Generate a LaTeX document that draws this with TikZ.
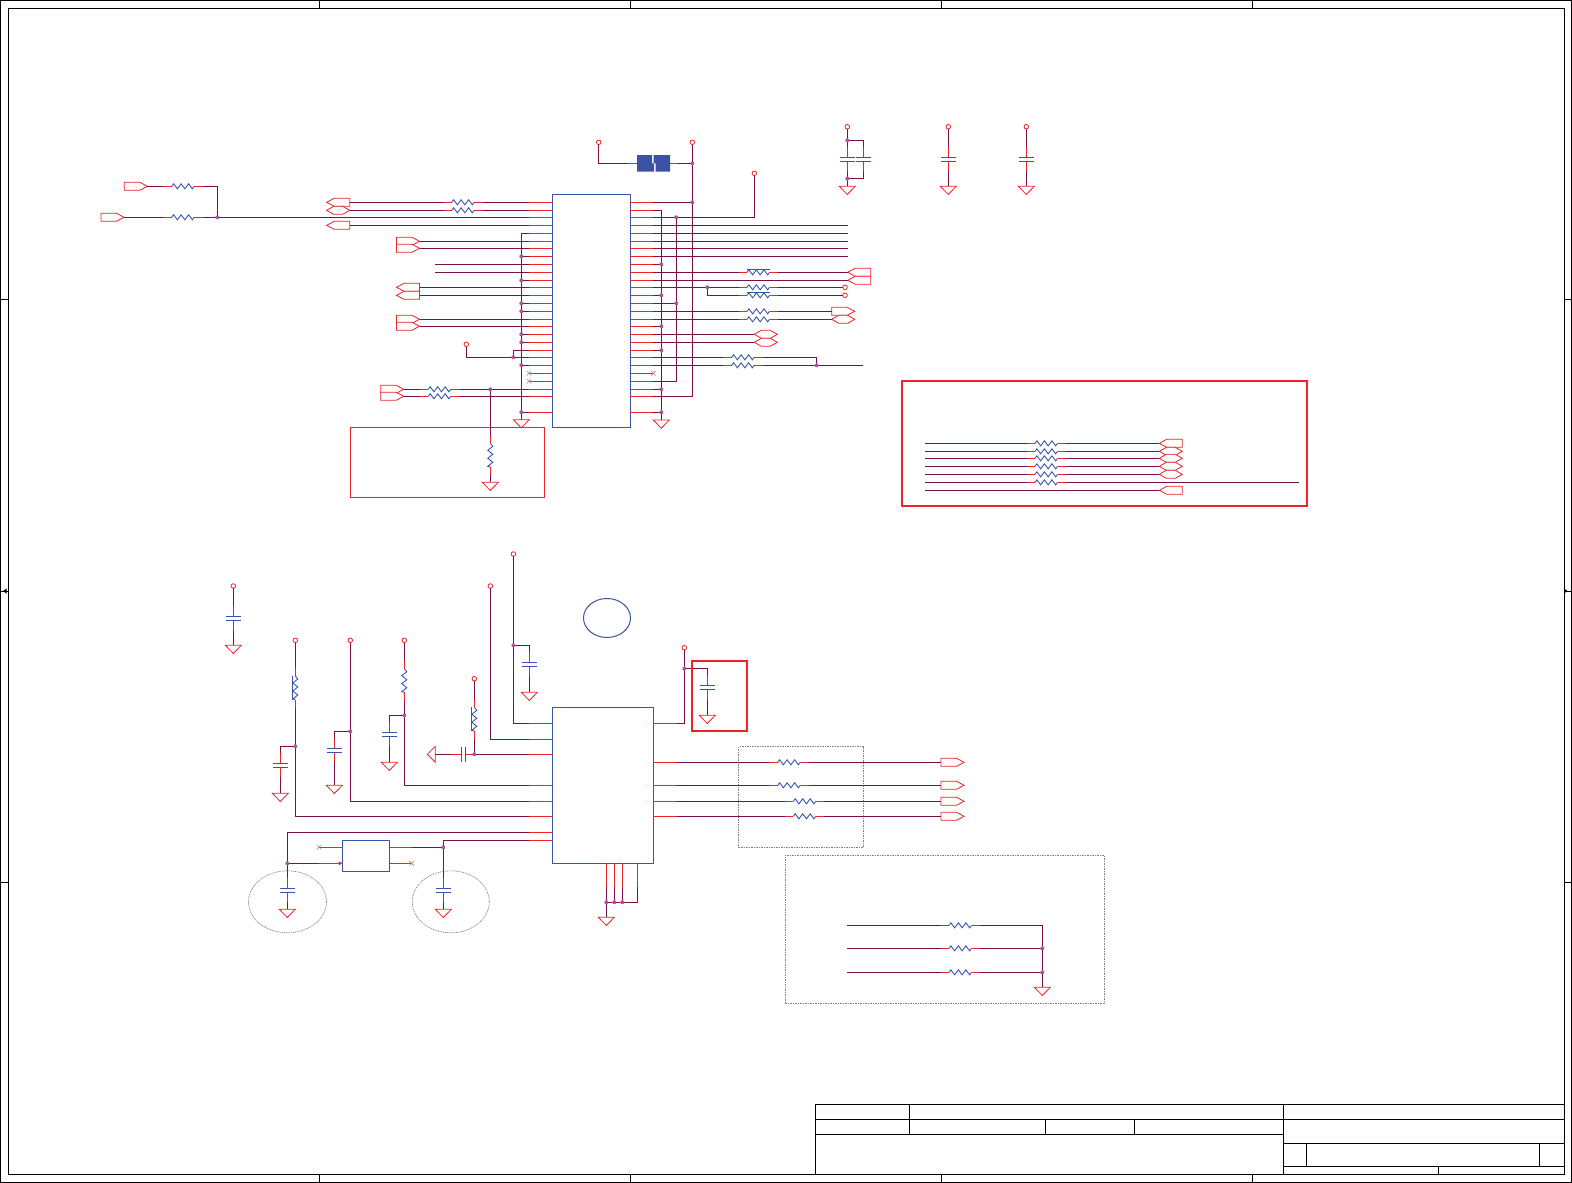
\documentclass[tikz,border=0pt]{standalone}
\usetikzlibrary{shapes.geometric}
\definecolor{cred}{HTML}{EE2227}
\definecolor{cwire}{HTML}{7A0F4A}
\definecolor{cblue}{HTML}{3A53A4}
\definecolor{cjun}{HTML}{B4509E}
\definecolor{ctan}{HTML}{B88A6A}
\definecolor{cgray}{HTML}{808080}
\tikzset{
  wire/.style={draw=cwire,line width=1pt,line join=miter},
  redstub/.style={draw=cred,line width=1pt},
  blueline/.style={draw=cblue,line width=0.9pt},
  portline/.style={draw=cred,line width=0.8pt,fill=white,line join=miter},
  junc/.style={fill=cjun,draw=none},
  nc/.style={draw=ctan,line width=0.6pt},
  icbox/.style={draw=cblue,line width=1pt,inner sep=0pt,outer sep=0pt,anchor=north west},
  redbox/.style={draw=cred,inner sep=0pt,outer sep=0pt,anchor=north west},
  dashbox/.style={draw=cgray,line width=0.7pt,dash pattern=on 1.5pt off 1pt,inner sep=0pt,outer sep=0pt,anchor=north west},
  dashell/.style={ellipse,draw=cgray,line width=0.7pt,dash pattern=on 1pt off 0.8pt,inner sep=0pt,outer sep=0pt},
  frameline/.style={draw=black,line width=1pt}
}
% horizontal resistor: name, left x of zigzag, y
\newcommand\ResH[3]{%
  \draw[redstub] (#2-8.3,#3) -- (#2,#3) (#2+22.5,#3) -- (#2+30.8,#3);
  \draw[blueline] (#2,#3) -- ++(1.9,-2.5) -- ++(3.75,5) -- ++(3.75,-5) -- ++(3.75,5) -- ++(3.75,-5) -- ++(3.75,5) -- ++(1.85,-2.5);
  \coordinate (#1-l) at (#2-8.3,#3);
  \coordinate (#1-r) at (#2+30.8,#3);}
\newcommand\ResHb[3]{\ResH{#1}{#2}{#3}\draw[blueline] (#2,#3-2.5) -- (#2+22.5,#3-2.5);}
% vertical resistor: name, x, top y of zigzag
\newcommand\ResV[3]{%
  \draw[redstub] (#2,#3-8.3) -- (#2,#3) (#2,#3+23.5) -- (#2,#3+31.8);
  \draw[blueline] (#2,#3) -- ++(2.5,3) -- ++(-5,4) -- ++(5,4) -- ++(-5,4) -- ++(5,4) -- ++(-5,4) -- ++(2.5,0.5);
  \coordinate (#1-t) at (#2,#3-8.3);
  \coordinate (#1-b) at (#2,#3+31.8);}
\newcommand\ResVb[3]{\ResV{#1}{#2}{#3}\draw[blueline] (#2-2.5,#3) -- (#2-2.5,#3+23.5);}
% vertical cap: name, x, y of upper plate
\newcommand\CapV[3]{%
  \draw[redstub] (#2,#3-10) -- (#2,#3) (#2,#3+4) -- (#2,#3+14);
  \draw[blueline] (#2-7.3,#3) -- (#2+7.3,#3) (#2-7.3,#3+4) -- (#2+7.3,#3+4);
  \coordinate (#1-t) at (#2,#3-10);
  \coordinate (#1-b) at (#2,#3+14);}
% horizontal cap: name, x of left plate, y
\newcommand\CapH[3]{%
  \draw[redstub] (#2-10,#3) -- (#2,#3) (#2+3.7,#3) -- (#2+13.7,#3);
  \draw[blueline] (#2,#3-7.3) -- (#2,#3+7.3) (#2+3.7,#3-7.3) -- (#2+3.7,#3+7.3);
  \coordinate (#1-l) at (#2-10,#3);
  \coordinate (#1-r) at (#2+13.7,#3);}
% open terminal: name, x, y
\newcommand\Term[3]{%
  \draw[draw=cred,line width=0.8pt] (#2,#3) circle (2.3);
  \coordinate (#1-s) at (#2,#3+2.3);
  \coordinate (#1-w) at (#2-2.3,#3);}
% ground: name, x, top y
\newcommand\Gnd[3]{%
  \draw[portline] (#2-8,#3) -- (#2+8,#3) -- (#2,#3+8.2) -- cycle;
  \coordinate (#1) at (#2,#3);}
\newcommand\PortL[3]{%
  \draw[portline] (#2,#3) -- (#2+7.5,#3-4) -- (#2+23,#3-4) -- (#2+23,#3+4) -- (#2+7.5,#3+4) -- cycle;
  \coordinate (#1-w) at (#2,#3); \coordinate (#1-e) at (#2+23,#3);}
\newcommand\PortR[3]{%
  \draw[portline] (#2,#3-4) -- (#2+15.5,#3-4) -- (#2+23,#3) -- (#2+15.5,#3+4) -- (#2,#3+4) -- cycle;
  \coordinate (#1-w) at (#2,#3); \coordinate (#1-e) at (#2+23,#3);}
\newcommand\PortH[3]{%
  \draw[portline] (#2,#3) -- (#2+7,#3-4) -- (#2+16,#3-4) -- (#2+23,#3) -- (#2+16,#3+4) -- (#2+7,#3+4) -- cycle;
  \coordinate (#1-w) at (#2,#3); \coordinate (#1-e) at (#2+23,#3);}
\newcommand\Jn[1]{\fill[junc] #1 circle (2);}
\newcommand\NoC[2]{\draw[nc] (#1-2.3,#2-2.3) -- (#1+2.3,#2+2.3) (#1-2.3,#2+2.3) -- (#1+2.3,#2-2.3);}
\begin{document}
\begin{tikzpicture}[x=1pt,y=-1pt]
\useasboundingbox (0,0) rectangle (1572,1183);
% ---------- sheet frame
\draw[frameline] (0.5,0.5) rectangle (1571.3,1182.5);
\draw[frameline] (8.5,8.5) rectangle (1564,1174.7);
\foreach \x in {319,630,941,1252}{
  \draw[frameline] (\x,0.5) -- (\x,8.5);
  \draw[frameline] (\x,1174.7) -- (\x,1182.5);}
\foreach \y in {299,591,882}{
  \draw[frameline] (0.5,\y) -- (8.5,\y);
  \draw[frameline] (1564,\y) -- (1571.3,\y);}
\fill (3,591) -- (6.5,588.5) -- (6.5,593.5) -- cycle;
\fill (1567.5,591) -- (1564,588.5) -- (1564,593.5) -- cycle;
% ---------- title block
\draw[frameline] (815.3,1174.7) -- (815.3,1104.3) -- (1564,1104.3);
\draw[frameline] (815.3,1119.3) -- (1564,1119.3);
\draw[frameline] (815.3,1134.3) -- (1283,1134.3);
\draw[frameline] (909.2,1104.3) -- (909.2,1134.3);
\draw[frameline] (1045.2,1119.3) -- (1045.2,1134.3);
\draw[frameline] (1134.5,1119.3) -- (1134.5,1134.3);
\draw[frameline] (1283,1104.3) -- (1283,1174.7);
\draw[frameline] (1283,1143.3) -- (1564,1143.3);
\draw[frameline] (1283,1166.3) -- (1564,1166.3);
\draw[frameline] (1306.6,1143.3) -- (1306.6,1166.3);
\draw[frameline] (1539.4,1143.3) -- (1539.4,1166.3);
\draw[frameline] (1438.8,1166.3) -- (1438.8,1174.7);
% ---------- upper IC and pins
\node[icbox,minimum width=78pt,minimum height=233pt] (ic1) at (552.3,194.3) {};
\foreach \yy [count=\i] in {202.3,210.3,217.3,225.3,233.3,241.3,248.3,256.3,264.3,272.3,280.3,287.3,295.3,303.3,311.3,319.3,326.3,334.3,342.3,350.3,357.3,365.3,373.3,381.3,389.3,396.3,412.3}{
  \draw[redstub] (552.3,\yy) -- (529,\yy) (630.3,\yy) -- (653.3,\yy);
  \coordinate (L\i) at (529,\yy);
  \coordinate (R\i) at (653.3,\yy);
}
% ---------- upper left inputs
\PortR{pa}{124.3}{186.3}
\PortR{pb}{101}{217.3}
\ResH{ra}{171.7}{186.3}
\ResH{rb}{171.7}{217.3}
\coordinate (mergeT) at (217.3,186.3);
\coordinate (mergeB) at (217.3,217.3);
\draw[wire] (pa-e) -- (ra-l);
\draw[wire] (pb-e) -- (rb-l);
\draw[wire] (ra-r) -- (mergeT) -- (mergeB);
\draw[wire] (L3) -- (rb-r);
\PortL{p1}{326.7}{202.3}
\PortH{p2}{326.7}{210.3}
\PortL{p4}{326.7}{225.3}
\ResH{r1}{451.7}{202.3}
\ResH{r2}{451.7}{210.3}
\draw[wire] (p1-e) -- (r1-l);
\draw[wire] (r1-r) -- (L1);
\draw[wire] (p2-e) -- (r2-l);
\draw[wire] (r2-r) -- (L2);
\draw[wire] (p4-e) -- (L4);
\PortR{p6}{396.5}{241.3}
\PortR{p7}{396.5}{248.3}
\draw[wire] (p6-e) -- (L6);
\draw[wire] (p7-e) -- (L7);
\coordinate (f9) at (435.3,264.3);
\coordinate (f10) at (435.3,272.3);
\draw[wire] (f9) -- (L9);
\draw[wire] (f10) -- (L10);
\PortL{p12}{396.5}{287.3}
\PortL{p13}{396.5}{295.3}
\draw[wire] (p12-e) -- (L12);
\draw[wire] (p13-e) -- (L13);
\PortR{p16}{396.5}{319.3}
\PortR{p17}{396.5}{326.3}
\draw[wire] (p16-e) -- (L16);
\draw[wire] (p17-e) -- (L17);
% left ground bus
\Gnd{gndL}{521.3}{419.7}
\coordinate (busL) at (521.3,233.3);
\draw[wire] (L5) -- (busL) -- (gndL);
\foreach \i in {8,11,14,15,18,19,22,27}{\draw[wire] (L\i) -- (L\i -| busL);}
% terminal at row 21
\Term{t21}{466.3}{344.3}
\coordinate (j21) at (513.3,357.3);
\draw[wire] (t21-s) |- (L21);
\draw[wire] (L20) -| (j21);
\NoC{529}{373.3}
\NoC{529}{381.3}
% rows 25, 26
\PortR{p25}{380.7}{389.3}
\PortR{p26}{380.7}{396.3}
\ResH{r25}{428.3}{389.3}
\ResH{r26}{428.3}{396.3}
\draw[wire] (p25-e) -- (r25-l);
\draw[wire] (r25-r) -- (L25);
\draw[wire] (p26-e) -- (r26-l);
\draw[wire] (r26-r) -- (L26);
\node[redbox,line width=1pt,minimum width=194pt,minimum height=70pt] (boxA) at (350.3,427.3) {};
\coordinate (j25) at (490.3,389.3);
\ResV{rv}{490.3}{443.3}
\Gnd{gndA}{490.3}{482.3}
\draw[wire] (j25) -- (rv-t);
\draw[wire] (rv-b) -- (gndA);
% ---------- fuse
\Term{tf}{598.7}{142.3}
\Term{tv}{692.3}{142.3}
\coordinate (fL) at (628,163.3);
\coordinate (fR) at (678,163.3);
\coordinate (jf) at (692.3,163.3);
\draw[redstub] (628,163.3) -- (637,163.3) (670,163.3) -- (678,163.3);
\draw[wire] (tf-s) |- (fL);
\draw[wire] (fR) -- (jf);
\fill[cblue] (637,155) -- (652,155) -- (652,163.3) -- (654,163.3) -- (654,171.7) -- (637,171.7) -- cycle;
\fill[cblue] (653.6,155) -- (670,155) -- (670,171.7) -- (655.6,171.7) -- (655.6,163.3) -- (653.6,163.3) -- cycle;
% ---------- right buses
\Gnd{gndR}{661.3}{420}
\coordinate (bus1) at (661.3,210.3);
\coordinate (bus2) at (676.3,217.3);
\coordinate (bus2b) at (676.3,381.3);
\coordinate (bus3b) at (692.3,396.3);
\draw[wire] (R2) -- (bus1) -- (gndR);
\draw[wire] (bus2) -- (bus2b) -- (R24);
\draw[wire] (tv-s) -- (bus3b) -- (R26);
\foreach \i in {9,13,17,20,25,27}{\draw[wire] (R\i) -- (R\i -| bus1);}
\draw[wire] (R14) -- (R14 -| bus2);
\draw[wire] (R1) -- (R1 -| bus3b);
\Term{t3}{754.3}{173.3}
\draw[wire] (R3) -| (t3-s);
\foreach \i in {4,5,6,7,8}{\draw[wire] (R\i) -- ++(194.4,0);}
% rows 272 / 280
\PortL{p10}{847.7}{272.3}
\PortL{p11}{847.7}{280.3}
\ResHb{r10}{747}{272.3}
\draw[wire] (R10) -- (r10-l);
\draw[wire] (r10-r) -- (p10-w);
\draw[wire] (R11) -- (p11-w);
% rows 287 / 295
\Term{t12}{845}{287.3}
\Term{t13}{845}{295.3}
\ResH{r12}{747}{287.3}
\ResHb{r13}{747}{295.3}
\coordinate (j12) at (707.3,287.3);
\draw[wire] (R12) -- (r12-l);
\draw[wire] (r12-r) -- (t12-w);
\draw[wire] (j12) |- (r13-l);
\draw[wire] (r13-r) -- (t13-w);
% rows 311 / 319
\PortR{p15}{831.7}{311.3}
\PortH{p16r}{831.7}{319.3}
\ResH{r15}{747}{311.3}
\ResH{r16}{747}{319.3}
\draw[wire] (R15) -- (r15-l);
\draw[wire] (r15-r) -- (p15-w);
\draw[wire] (R16) -- (r16-l);
\draw[wire] (r16-r) -- (p16r-w);
% rows 334 / 342
\PortH{p18}{754.3}{334.3}
\PortH{p19}{754.3}{342.3}
\draw[wire] (R18) -- (p18-w);
\draw[wire] (R19) -- (p19-w);
% rows 357 / 365
\ResH{r21}{731.7}{357.3}
\ResH{r22}{731.7}{365.3}
\coordinate (j22) at (816.7,365.3);
\coordinate (e22) at (863.3,365.3);
\draw[wire] (R21) -- (r21-l);
\draw[wire] (R22) -- (r22-l);
\draw[wire] (r21-r) -| (j22);
\draw[wire] (r22-r) -- (e22);
\NoC{653.3}{373.3}
% ---------- decoupling caps
\Term{c1t}{847.3}{126.7}
\CapV{c1}{847.3}{157.3}
\CapV{c1b}{863.3}{157.3}
\Gnd{c1g}{847.3}{186.3}
\coordinate (c1j1) at (847.3,140.3);
\coordinate (c1j2) at (847.3,178.7);
\draw[wire] (c1t-s) -- (c1-t);
\draw[wire] (c1-b) -- (c1g);
\draw[wire] (c1j1) -| (c1b-t);
\draw[wire] (c1j2) -| (c1b-b);
\foreach \nm/\cx in {c2/948.3,c3/1026.3}{
  \Term{\nm t}{\cx}{126.7}
  \CapV{\nm}{\cx}{157.3}
  \Gnd{\nm g}{\cx}{186.3}
  \draw[wire] (\nm t-s) -- (\nm-t);
  \draw[wire] (\nm-b) -- (\nm g);
}
% ---------- red box with resistors
\node[redbox,line width=2pt,minimum width=405.3pt,minimum height=124.7pt] (boxB) at (902,381) {};
\foreach \nm/\yy [count=\i] in {a/443.3,b/451.3,c/458.3,d/466.3,e/474.3,f/482.3}{
  \coordinate (s\nm) at (925.3,\yy);
  \ResH{q\nm}{1035}{\yy}
  \draw[wire] (s\nm) -- (q\nm-l);
}
\PortL{qpa}{1159.3}{443.3}
\PortH{qpb}{1159.3}{451.3}
\PortH{qpc}{1159.3}{458.3}
\PortH{qpd}{1159.3}{466.3}
\PortH{qpe}{1159.3}{474.3}
\PortL{qpg}{1159.3}{490.3}
\foreach \nm in {a,b,c,d,e}{\draw[wire] (q\nm-r) -- (qp\nm-w);}
\coordinate (ef) at (1299,482.3);
\draw[wire] (qf-r) -- (ef);
\coordinate (sg) at (925.3,490.3);
\draw[wire] (sg) -- (qpg-w);
% ---------- lower IC
\node[icbox,minimum width=101pt,minimum height=156pt] (ic2) at (552.3,707.3) {};
\foreach \yy [count=\i] in {723.3,739.3,754.3,785.3,801.3,816.3,832.3,840.3}{
  \draw[redstub] (552.3,\yy) -- (529,\yy);
  \coordinate (B\i) at (529,\yy);
}
\foreach \yy [count=\i] in {723.3,762.3,785.3,801.3,816.3}{
  \draw[redstub] (653.3,\yy) -- (677,\yy);
  \coordinate (C\i) at (677,\yy);
}
\foreach \xx [count=\i] in {606.3,614.3,622.3,637.3}{
  \draw[redstub] (\xx,863.3) -- (\xx,886.7);
  \coordinate (D\i) at (\xx,886.7);
}
\node[ellipse,draw=cblue,line width=1pt,minimum width=47pt,minimum height=39pt,inner sep=0pt] (mark) at (607,618) {};
% bottom ground
\Gnd{gndD}{606.3}{917.3}
\coordinate (dr) at (637.3,902.3);
\draw[wire] (D1) -- (gndD);
\draw[wire] (D2) -- (D2 |- dr);
\draw[wire] (D3) -- (D3 |- dr);
\draw[wire] (D4) -- (dr) -- (606.3,902.3);
% cap at far left
\Term{t0}{233.3}{586}
\CapV{c0}{233.3}{616}
\Gnd{g0}{233.3}{645.3}
\draw[wire] (t0-s) -- (c0-t);
\draw[wire] (c0-b) -- (g0);
% supply R1
\Term{t1}{295.3}{640.3}
\ResVb{rv1}{295.3}{676}
\coordinate (j1) at (295.3,746.3);
\CapV{c11}{280.3}{763.3}
\Gnd{g11}{280.3}{793.3}
\draw[wire] (t1-s) -- (rv1-t);
\draw[wire] (rv1-b) |- (B6);
\draw[wire] (j1) -| (c11-t);
\draw[wire] (c11-b) -- (g11);
% supply R2
\Term{t2}{350.3}{640.3}
\coordinate (j2) at (350.3,731.3);
\CapV{c12}{334.3}{748.3}
\Gnd{g12}{334.3}{785.3}
\draw[wire] (t2-s) |- (B5);
\draw[wire] (j2) -| (c12-t);
\draw[wire] (c12-b) -- (g12);
% supply R3
\Term{t3b}{404.3}{640.3}
\ResV{rv3}{404.3}{668.7}
\coordinate (j3) at (404.3,715.3);
\CapV{c13}{389.3}{732.3}
\Gnd{g13}{389.3}{762.3}
\draw[wire] (t3b-s) -- (rv3-t);
\draw[wire] (rv3-b) |- (B4);
\draw[wire] (j3) -| (c13-t);
\draw[wire] (c13-b) -- (g13);
% supply R4
\Term{t4}{474.3}{678.7}
\ResVb{rv4}{474.3}{707.3}
\coordinate (j4) at (474.3,754.3);
\CapH{c14}{461.3}{754.3}
\draw[portline] (435.3,746.3) -- (435.3,762.3) -- (427.3,754.3) -- cycle;
\coordinate (g14) at (435.3,754.3);
\draw[wire] (t4-s) -- (rv4-t);
\draw[wire] (rv4-b) |- (B3);
\draw[wire] (c14-r) -- (B3);
\draw[wire] (g14) -- (c14-l);
% supplies to top pins
\Term{t5}{513.4}{554}
\Term{t6}{490.3}{586}
\coordinate (j5) at (513.4,645.3);
\CapV{c15}{529.3}{662.3}
\Gnd{g15}{529.3}{692.3}
\draw[wire] (t5-s) |- (B1);
\draw[wire] (t6-s) |- (B2);
\draw[wire] (j5) -| (c15-t);
\draw[wire] (c15-b) -- (g15);
% crystal style block
\node[icbox,minimum width=47.4pt,minimum height=31pt] (xt) at (342.3,840.3) {};
\draw[redstub] (342.3,847.3) -- (319,847.3);
\NoC{319}{847.3}
\draw[redstub] (389.7,863.3) -- (411.7,863.3);
\NoC{411.7}{863.3}
\draw[redstub] (389.7,847.3) -- (411.7,847.3);
\draw[redstub] (319,863.3) -- (342.3,863.3);
\fill[cred] (342.3,863.3) -- (338.8,861.3) -- (338.8,865.3) -- cycle;
\coordinate (xl) at (319,863.3);
\coordinate (xr) at (411.7,847.3);
\coordinate (jxl) at (287.3,863.3);
\coordinate (jxr) at (443.3,847.3);
\CapV{cxl}{287.3}{888.3}
\CapV{cxr}{443.3}{888.3}
\Gnd{gxl}{287.3}{909.3}
\Gnd{gxr}{443.3}{909.3}
\draw[wire] (B7) -| (cxl-t);
\draw[wire] (B8) -| (cxr-t);
\draw[wire] (cxl-b) -- (gxl);
\draw[wire] (cxr-b) -- (gxr);
\draw[wire] (jxl) -- (xl);
\draw[wire] (xr) -- (jxr);
\node[dashell,minimum width=78pt,minimum height=62pt] (el) at (287.5,901.8) {};
\node[dashell,minimum width=77pt,minimum height=62pt] (er) at (450.8,901.8) {};
% right of lower IC
\Term{t7}{684.3}{647.7}
\coordinate (j7) at (684.3,668.7);
\draw[wire] (C1) -| (t7-s);
\CapV{c17}{707.3}{685.3}
\Gnd{g17}{707.3}{715.3}
\draw[wire] (j7) -| (c17-t);
\draw[wire] (c17-b) -- (g17);
\node[redbox,line width=2pt,minimum width=55.3pt,minimum height=70pt] (boxC) at (692,661) {};
\node[dashbox,minimum width=124.6pt,minimum height=100.6pt] (boxD) at (738.7,746.7) {};
\foreach \nm/\rx/\yy/\cc in {a/777.7/762.3/C2,b/777.7/785.3/C3,c/793.3/801.3/C4,d/793.3/816.3/C5}{
  \ResH{s\nm}{\rx}{\yy}
  \PortR{sp\nm}{941}{\yy}
  \draw[wire] (\cc) -- (s\nm-l);
  \draw[wire] (s\nm-r) -- (sp\nm-w);
}
% ---------- lower right dashed block
\node[dashbox,minimum width=319pt,minimum height=148pt] (boxE) at (785.3,855.3) {};
\coordinate (vtop) at (1042.3,925.3);
\Gnd{gndE}{1042.3}{987.3}
\foreach \nm/\yy in {a/925.3,b/948.3,c/972.3}{
  \coordinate (u\nm) at (847.3,\yy);
  \ResH{v\nm}{949}{\yy}
  \draw[wire] (u\nm) -- (v\nm-l);
  \draw[wire] (v\nm-r) -- (v\nm-r -| vtop);
}
\draw[wire] (vtop) -- (gndE);
% ---------- junction dots
\Jn{(mergeB)}
\foreach \i in {8,11,14,15,18,19,22,27}{\Jn{(L\i -| busL)}}
\Jn{(j21)}
\Jn{(j25)}
\Jn{(jf)}
\foreach \i in {9,13,17,20,25,27}{\Jn{(R\i -| bus1)}}
\Jn{(bus2)}
\Jn{(R14 -| bus2)}
\Jn{(R1 -| bus3b)}
\Jn{(j12)}
\Jn{(j22)}
\Jn{(c1j1)}
\Jn{(c1j2)}
\Jn{(D1 |- dr)}
\Jn{(D2 |- dr)}
\Jn{(D3 |- dr)}
\Jn{(j1)}
\Jn{(j2)}
\Jn{(j3)}
\Jn{(j4)}
\Jn{(j5)}
\Jn{(j7)}
\Jn{(jxl)}
\Jn{(jxr)}
\Jn{(1042.3,948.3)}
\Jn{(1042.3,972.3)}
\end{tikzpicture}
\end{document}
